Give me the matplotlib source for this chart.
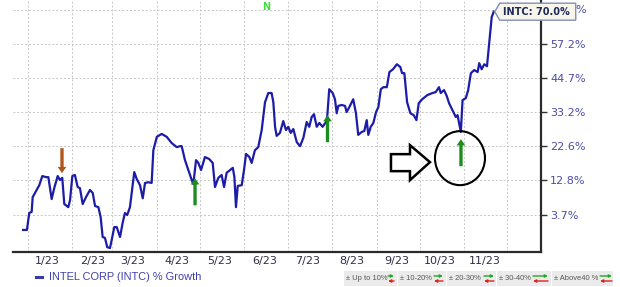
import numpy as np
import pandas as pd
import matplotlib
matplotlib.use("Agg")
import matplotlib.pyplot as plt
import matplotlib.dates as mdates
import matplotlib.transforms as mtransforms
from matplotlib.patches import Polygon, Ellipse, Rectangle, FancyArrowPatch
from matplotlib.lines import Line2D
from matplotlib.ticker import FixedLocator, FixedFormatter, FuncFormatter, NullFormatter, NullLocator

# ---------------- data ----------------
start_date = "2023-01-01"
ticker = "INTC"
series_name = "INTEL CORP (INTC) % Growth"

# days after start_date
day_offset = [
    -3.1, -0.4, 1.2, 2.9, 3.6, 6.4, 8.2, 10.3, 12.9, 14.5,
    16.8, 18.6, 21.0, 22.6, 24.2, 25.6, 28.4, 29.6, 31.2, 33.0,
    34.9, 36.5, 38.4, 40.7, 43.5, 45.4, 47.0, 49.3, 50.9, 52.3,
    53.9, 55.5, 57.4, 58.6, 60.4, 62.1, 64.4, 66.2, 67.8, 69.4,
    71.3, 74.3, 76.0, 78.3, 80.2, 81.8, 84.1, 86.4, 87.6, 90.0,
    93.4, 96.9, 100.4, 103.9, 106.2, 107.3, 109.6, 111.9, 114.3, 115.4,
    117.3, 118.9, 120.8, 123.5, 126.5, 128.9, 130.5, 132.8, 135.1, 136.8,
    138.6, 141.0, 142.9, 144.0, 145.1, 146.3, 149.1, 150.7, 152.1, 154.4,
    156.0, 158.3, 160.6, 163.0, 165.3, 167.6, 169.9, 171.1, 172.3, 173.4,
    175.7, 178.0, 179.9, 181.5, 183.2, 185.0, 187.4, 189.7, 192.0, 194.3,
    196.1, 197.8, 199.4, 201.3, 203.1, 205.4, 207.7, 208.6, 210.0, 212.4,
    214.0, 215.2, 216.3, 218.7, 221.0, 222.1, 224.0, 226.7, 228.6, 230.2,
    232.6, 234.4, 236.1, 237.2, 238.9, 240.7, 242.6, 244.2, 245.9, 247.7,
    250.1, 251.9, 254.4, 257.1, 259.5, 260.7, 262.3, 264.2, 266.5, 268.8,
    270.7, 272.3, 274.7, 278.3, 281.8, 284.1, 286.4, 287.6, 289.9, 291.8,
    293.4, 295.8, 298.1, 299.3, 300.4, 301.6, 302.8, 305.1, 306.7, 308.6,
    310.9, 313.3, 314.4, 316.1, 317.9, 319.8, 321.4, 323.1, 324.5,
]

pct_growth = [
    0.0, 0.0, 4.2, 4.5, 8.3, 10.2, 11.5, 14.0, 13.7, 13.7,
    7.8, 10.7, 14.0, 12.9, 13.5, 6.5, 5.7, 7.5, 14.0, 14.3,
    11.0, 10.7, 6.5, 8.3, 10.2, 9.4, 6.0, 5.7, 3.2, -1.7,
    -1.9, -4.1, -4.3, -2.4, 0.7, 0.7, -1.7, 1.7, 4.2, 3.7,
    5.7, 15.1, 13.2, 11.5, 8.0, 12.1, 12.3, 12.1, 21.4, 25.4,
    26.3, 25.4, 23.5, 22.3, 22.6, 22.6, 18.5, 15.7, 12.9, 11.8,
    18.5, 17.7, 15.7, 19.4, 18.8, 17.7, 11.0, 13.5, 14.3, 11.0,
    14.9, 15.7, 16.3, 13.7, 5.7, 11.3, 11.5, 15.7, 20.3, 19.4,
    17.7, 21.4, 22.3, 27.5, 36.4, 39.5, 39.5, 36.4, 28.5, 25.7,
    26.6, 30.3, 27.5, 28.5, 26.6, 27.8, 23.8, 22.6, 25.1, 30.0,
    28.5, 31.6, 32.5, 28.5, 29.7, 28.5, 30.0, 31.6, 40.8, 39.5,
    37.4, 32.8, 35.2, 35.5, 35.2, 33.2, 34.8, 37.4, 32.8, 26.0,
    26.9, 27.2, 30.6, 26.0, 28.5, 29.7, 33.2, 34.8, 40.8, 41.5,
    41.5, 46.8, 47.8, 49.6, 48.6, 46.4, 46.4, 36.4, 32.8, 32.2,
    30.6, 36.1, 37.4, 38.8, 39.5, 39.8, 41.5, 39.5, 40.5, 38.5,
    36.1, 33.8, 31.6, 32.2, 29.7, 26.9, 37.1, 37.8, 40.5, 46.4,
    47.5, 46.8, 50.0, 47.8, 49.6, 48.9, 57.6, 67.8, 70.0,
]

# the top gridline's label is hidden behind the value flag; only its "%" shows
y_ticks = [3.7, 12.8, 22.6, 33.2, 44.7, 57.2, 70.8]
y_tick_labels = ["3.7%", "12.8%", "22.6%", "33.2%", "44.7%", "57.2%", ""]
hidden_tail = "%"

# buy / sell signal markers (day offset, % level the arrow points at)
signal_day = [24.0, 116.6, 208.8, 301.7]
signal_pct = [14.8, 13.4, 32.2, 24.7]
signal_kind = ["sell", "buy", "buy", "buy"]
news_day = [165.8]

band_labels = ["\u00b1 Up to 10%", "\u00b1 10-20%", "\u00b1 20-30%", "\u00b1 30-40%", "\u00b1 Above40 %"]

# ---------------- figure ----------------
W, H = 620, 287
fig = plt.figure(figsize=(W / 100, H / 100), dpi=100)
fig.patch.set_facecolor("white")
ax = fig.add_axes([13 / W, 1 - 252 / H, (541 - 13) / W, 252 / H])

base = pd.Timestamp(start_date)
dates = base + pd.to_timedelta(np.array(day_offset), unit="D")


def fwd(g):
    return np.log1p(np.asarray(g, dtype=float) / 100.0)


def inv(v):
    return np.expm1(np.asarray(v, dtype=float)) * 100.0


ax.set_yscale("function", functions=(fwd, inv))
ax.set_ylim(-5.22, 74.9)
ax.set_xlim(base + pd.Timedelta(days=-10.1), base + pd.Timedelta(days=357.4))

line_color = "#1c1ca8"
ax.plot(dates, pct_growth, color=line_color, lw=1.6, zorder=3, solid_joinstyle="round")

# axes styling
for s in ("left", "top"):
    ax.spines[s].set_visible(False)
for s in ("right", "bottom"):
    ax.spines[s].set_color("#2b2b2b")
    ax.spines[s].set_linewidth(1.6)

ax.yaxis.tick_right()
ax.yaxis.set_major_locator(FixedLocator(y_ticks))
ax.yaxis.set_major_formatter(FixedFormatter(y_tick_labels))
ax.yaxis.set_minor_locator(NullLocator())
tick_label_color = "#4b4ba6"
ax.tick_params(axis="y", which="major", direction="out", length=4.3, width=1.0,
               color="#333333", pad=2.2, labelsize=8, labelcolor=tick_label_color)

ax.xaxis.set_major_locator(mdates.MonthLocator())
ax.xaxis.set_major_formatter(NullFormatter())
ax.xaxis.set_minor_locator(mdates.MonthLocator(bymonth=range(1, 12), bymonthday=15))


def month_fmt(x, pos):
    d = mdates.num2date(x)
    return f"{d.month}/{d:%y}"


ax.xaxis.set_minor_formatter(FuncFormatter(month_fmt))
ax.tick_params(axis="x", which="both", length=0, pad=2.6, labelsize=8, labelcolor="#2f2f45")

ax.set_axisbelow(True)
ax.grid(True, which="major", axis="both", color="#c6c6c6", ls=(0, (2, 2)), lw=0.7)

# signal arrows
for d, p, k in zip(signal_day, signal_pct, signal_kind):
    xd = base + pd.Timedelta(days=d)
    if k == "sell":
        col, off = "#b0581c", 18.0
    else:
        col, off = "#1f8c1f", -19.5
    ax.annotate("", xy=(xd, p), xytext=(0, off), textcoords="offset points",
                arrowprops=dict(arrowstyle="simple,head_length=0.45,head_width=0.62,tail_width=0.24",
                                mutation_scale=10, facecolor=col, edgecolor="none", lw=0,
                                shrinkA=0, shrinkB=0), zorder=4)

# news marker
btrans = mtransforms.blended_transform_factory(ax.transData, ax.transAxes)
for d in news_day:
    ax.text(mdates.date2num(base + pd.Timedelta(days=d)), 0.972, "N", transform=btrans,
            ha="center", va="center", fontsize=7, fontweight="bold", color="#44dd44")

# highlight circle + hollow block arrow at the last buy signal
anc = ax.transData.transform((mdates.date2num(base + pd.Timedelta(days=signal_day[-1])), signal_pct[-1]))
T = mtransforms.Affine2D().translate(anc[0], anc[1])
fig.add_artist(Ellipse((-1, -19), 50, 54, transform=T, fill=False, ec="black", lw=1.5, zorder=8))
arrow_pts = [(-70, -15), (-51, -15), (-51, -6), (-31, -23), (-51, -41), (-51, -32), (-70, -32)]
fig.add_artist(Polygon(arrow_pts, closed=True, transform=T, fc="white", ec="black", lw=1.8,
                       joinstyle="miter", zorder=8))

# current value flag
last = ax.transData.transform((mdates.date2num(dates[-1]), pct_growth[-1]))
T2 = mtransforms.Affine2D().translate(last[0], last[1])
flag = [(1, 0), (6, 8.5), (82, 8.5), (82, -8.5), (6, -8.5)]
fig.add_artist(Polygon(flag, closed=True, transform=T2, fc="#f8f6ea", ec="#7f8fb8", lw=1.0, zorder=10))
fig.text(43, 0, f"{ticker}: {pct_growth[-1]:.1f}%", transform=T2, ha="center", va="center",
         fontsize=7, fontweight="bold", color="#1c2a5c", zorder=11)

# visible tail of the hidden top tick label, just right of the flag
top_tick = ax.transData.transform((0, y_ticks[-1]))
fig.text(586 / W, top_tick[1] / H, hidden_tail, ha="right", va="center", fontsize=8,
         color=tick_label_color)


# ---------------- legend (bottom) ----------------
def fx(x):
    return x / W


def fy(y):
    return 1 - y / H


fig.add_artist(Line2D([fx(36), fx(42)], [fy(277), fy(277)], color="#3a3aa8", lw=2.2))
fig.text(fx(49), fy(277), series_name, ha="left", va="center", fontsize=7.9,
         family=["Liberation Sans", "DejaVu Sans"], color="#4040aa")

box_x = [(344, 397), (398, 446), (447, 496), (497, 551), (552, 613)]
arr_x = [(388, 394), (434, 443), (484, 494), (533, 548), (600, 612)]
for (x0, x1), (a0, a1), lab in zip(box_x, arr_x, band_labels):
    fig.add_artist(Rectangle((fx(x0), fy(286)), fx(x1) - fx(x0), fy(271) - fy(286),
                             transform=fig.transFigure, fc="#ebebeb", ec="none"))
    fig.text(fx(x0 + 2), fy(278.5), lab, ha="left", va="center", fontsize=5.4,
             family=["Liberation Sans Narrow", "Liberation Sans", "DejaVu Sans"], color="#555555")
    fig.add_artist(FancyArrowPatch((fx(a0), fy(276)), (fx(a1), fy(276)), transform=fig.transFigure,
                                   arrowstyle="-|>", mutation_scale=4, lw=1.0, color="#22aa22",
                                   shrinkA=0, shrinkB=0))
    fig.add_artist(FancyArrowPatch((fx(a1), fy(281)), (fx(a0), fy(281)), transform=fig.transFigure,
                                   arrowstyle="-|>", mutation_scale=4, lw=1.0, color="#dd2222",
                                   shrinkA=0, shrinkB=0))

fig.savefig("out.png", dpi=100, facecolor="white")
